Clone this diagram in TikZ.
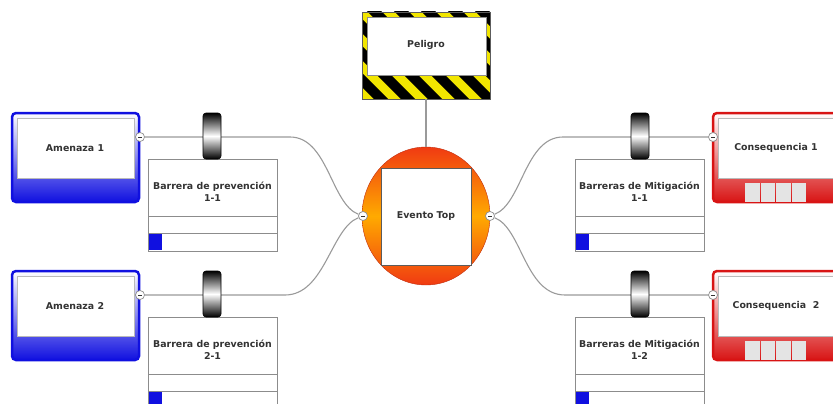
\documentclass[tikz,border=0pt]{standalone}
\usepackage{fontspec}
\setmainfont{DejaVu Sans}
\usetikzlibrary{shapes.geometric}
\definecolor{linegray}{HTML}{9A9A9A}
\definecolor{textgray}{HTML}{333333}
\definecolor{boxgray}{HTML}{8C8C8C}
\definecolor{threatblue}{HTML}{1010E0}
\definecolor{consred}{HTML}{D81414}
\definecolor{hazyellow}{HTML}{F2E600}
\definecolor{eventred}{HTML}{F03A12}
\definecolor{eventorange}{HTML}{FFAA00}
\definecolor{tilegray}{HTML}{E4E4E4}

\tikzset{
  lbl/.style={font=\bfseries\fontsize{9.4}{12.5}\selectfont, text=textgray, align=center},
  link/.style={linegray, line width=1.1pt},
  knob/.style={circle, draw=boxgray, fill=white, line width=0.7pt, minimum size=9pt, inner sep=0pt,
    path picture={\draw[textgray, line width=0.8pt]
      ([xshift=-2pt]path picture bounding box.center) -- ([xshift=2pt]path picture bounding box.center);}},
  wheel/.style={rounded corners=3pt, draw=black, line width=0.6pt,
    top color=black, bottom color=black, middle color=white},
}

% card with coloured frame: left x, top y, colour
\newcommand{\card}[3]{%
  \shadedraw[draw=#3, line width=2.5pt, rounded corners=4pt,
    top color=white, middle color=white, bottom color=#3] (#1,#2) rectangle ++(127,89);
  \draw[boxgray!60, fill=white, line width=0.4pt] (#1+5,#2+5) rectangle ++(117,60);
}
% barrier box: left x, top y
\newcommand{\barrierbox}[2]{%
  \draw[boxgray, fill=white, line width=0.7pt] (#1,#2) rectangle ++(129,92);
  \draw[boxgray, line width=0.7pt] (#1,#2+57) -- ++(129,0) (#1,#2+74) -- ++(129,0);
  \fill[threatblue] (#1+0.5,#2+74.5) rectangle ++(13,16);
}

\begin{document}
\begin{tikzpicture}[x=1pt, y=-1pt]
  \useasboundingbox (0,0) rectangle (833,404);

  % hazard sign
  \begin{scope}
    \clip (362,12) rectangle (490,99);
    \fill[hazyellow] (362,12) rectangle (490,99);
    \foreach \s in {0,27,...,270}
      \draw[black, line width=10pt] (250+\s,-5) -- ++(110,110);
  \end{scope}
  \draw[boxgray, fill=white, line width=0.5pt] (367,17) rectangle (486,75);
  \draw[textgray!80, line width=0.6pt] (362,12) rectangle (490,99);
  \node[lbl] (hz) at (426,45) {Peligro};
  \coordinate (hzb) at (426,99);

  % top event
  \node[ellipse, draw=eventred!80!black, line width=0.4pt, minimum width=128pt, minimum height=138pt,
    top color=eventred, bottom color=eventred, middle color=eventorange] (te) at (426,216) {};
  \node[draw=textgray!80, fill=white, line width=0.6pt, minimum width=90pt, minimum height=97pt, lbl]
    (tet) at (426,216.5) {Evento Top};
  \draw[link] (hzb) -- (te.north);

  % threats and consequences
  \card{12}{113}{threatblue}
  \card{12}{271}{threatblue}
  \card{713}{113}{consred}
  \card{713}{271}{consred}
  \foreach \y in {183,341}
    \foreach \i in {0,...,3}
      \fill[tilegray] (745+\i*15.5,\y) rectangle ++(14.5,19);
  \node[lbl] (a1) at (75,148) {Amenaza 1};
  \node[lbl] (a2) at (75,306) {Amenaza 2};
  \node[lbl] (c1) at (776,148) {Consequencia 1};
  \node[lbl] (c2) at (776,306) {Consequencia\ \ 2};

  % barriers
  \barrierbox{148}{159}
  \barrierbox{148}{317}
  \barrierbox{575}{159}
  \barrierbox{575}{317}
  \node[lbl] (b11) at (212.5,191.5) {Barrera de prevención\\1-1};
  \node[lbl] (b21) at (212.5,349.5) {Barrera de prevención\\2-1};
  \node[lbl] (m11) at (639.5,191.5) {Barreras de Mitigación\\1-1};
  \node[lbl] (m12) at (639.5,349.5) {Barreras de Mitigación\\1-2};

  % collapse knobs
  \node[knob] (a1m) at (140,137) {};
  \node[knob] (a2m) at (140,295) {};
  \node[knob] (c1m) at (713,137) {};
  \node[knob] (c2m) at (713,295) {};
  \node[knob] (tlw) at (363,216) {};
  \node[knob] (tle) at (490,216) {};

  % connectors
  \draw[link] (a1m) -- ++(150,0) .. controls +(38,0) and +(-32,-12) .. (tlw);
  \draw[link] (a2m) -- ++(145,0) .. controls +(40,0) and +(-32,12) .. (tlw);
  \draw[link] (c1m) -- ++(-150,0) .. controls +(-38,0) and +(32,-12) .. (tle);
  \draw[link] (c2m) -- ++(-148,0) .. controls +(-40,0) and +(32,12) .. (tle);

  % barrier wheels
  \foreach \x in {203,631}
    \foreach \y in {113,271}
      \draw[wheel] (\x,\y) rectangle ++(18,46);
\end{tikzpicture}
\end{document}
